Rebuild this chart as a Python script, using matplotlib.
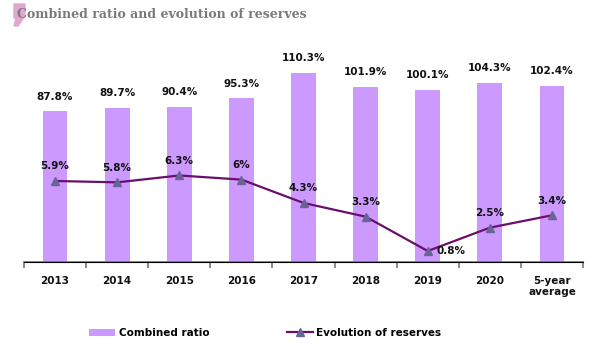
import matplotlib
matplotlib.use("Agg")
import matplotlib.pyplot as plt
from matplotlib.patches import Polygon

categories = ["2013", "2014", "2015", "2016", "2017", "2018", "2019", "2020", "5-year\naverage"]
combined_ratio = [87.8, 89.7, 90.4, 95.3, 110.3, 101.9, 100.1, 104.3, 102.4]
reserves = [5.9, 5.8, 6.3, 6.0, 4.3, 3.3, 0.8, 2.5, 3.4]
ratio_labels = ["87.8%", "89.7%", "90.4%", "95.3%", "110.3%", "101.9%", "100.1%", "104.3%", "102.4%"]
reserve_labels = ["5.9%", "5.8%", "6.3%", "6%", "4.3%", "3.3%", "0.8%", "2.5%", "3.4%"]

W, H = 600, 344
fig = plt.figure(figsize=(6, 3.44), dpi=100)
ax = fig.add_axes([24 / W, 1 - 262 / H, (583 - 24) / W, (262 - 56) / H])
ax2 = ax.twinx()

font = "DejaVu Sans"
x = list(range(len(categories)))
bar_color = "#CC99FF"
line_color = "#6B0F6B"
marker_color = "#6A6496"

ax.bar(x, combined_ratio, width=0.4, color=bar_color, zorder=2, label="Combined ratio")
ax.set_ylim(0, 120)
ax.set_xlim(-0.5, len(categories) - 0.5)
for xi, v, lab in zip(x, combined_ratio, ratio_labels):
    ax.annotate(lab, (xi, v), xytext=(0, 7), textcoords="offset points", ha="center", va="bottom",
                fontsize=7.5, fontweight="bold", family=font, color="#111111")

ax2.plot(x, reserves, color=line_color, lw=1.6, marker="^", markersize=6,
         markerfacecolor=marker_color, markeredgecolor=marker_color, zorder=3, label="Evolution of reserves")
ax2.set_ylim(0, 15)
for xi, v, lab in zip(x, reserves, reserve_labels):
    if lab == "0.8%":
        ax2.annotate(lab, (xi, v), xytext=(6, 0), textcoords="offset points", ha="left", va="center",
                     fontsize=7.5, fontweight="bold", family=font, color="#111111")
    else:
        ax2.annotate(lab, (xi, v), xytext=(0, 7), textcoords="offset points", ha="center", va="bottom",
                     fontsize=7.5, fontweight="bold", family=font, color="#111111")

for a in (ax, ax2):
    for s in ["left", "right", "top"]:
        a.spines[s].set_visible(False)
    a.set_yticks([])
ax.spines["bottom"].set_color("#777777")
ax.spines["bottom"].set_linewidth(1.2)
ax.set_xticks(x)
ax.set_xticklabels(categories, fontsize=7.5, fontweight="bold", family=font, color="#111111")
ax.tick_params(axis="x", length=0, pad=10)
ax.set_xticks([i - 0.5 for i in range(len(categories) + 1)], minor=True)
ax.tick_params(axis="x", which="minor", length=4, color="#777777", width=1.2)

# legend
h1, l1 = ax.get_legend_handles_labels()
h2, l2 = ax2.get_legend_handles_labels()
leg = fig.legend(h1 + h2, l1 + l2, loc="center left", bbox_to_anchor=(80 / W, 1 - 333 / H),
                 ncol=2, frameon=False, columnspacing=7.5, handlelength=2.5, handletextpad=0.3,
                 prop={"family": font, "weight": "bold", "size": 7.5})

# title and decoration
deco = Polygon([(14 / W, 1 - 4 / H), (25 / W, 1 - 4 / H), (25 / W, 1 - 16 / H), (18 / W, 1 - 26 / H),
                (14 / W, 1 - 26 / H), (16 / W, 1 - 18 / H), (14 / W, 1 - 18 / H)],
               closed=True, transform=fig.transFigure, color="#E0A8D0", zorder=0)
fig.patches.append(deco)
fig.text(17 / W, 1 - 14 / H, "Combined ratio and evolution of reserves", fontsize=9, fontweight="heavy",
         family="DejaVu Serif", color="#7A7A7A", va="center", ha="left")

fig.savefig("out.png", dpi=100)
